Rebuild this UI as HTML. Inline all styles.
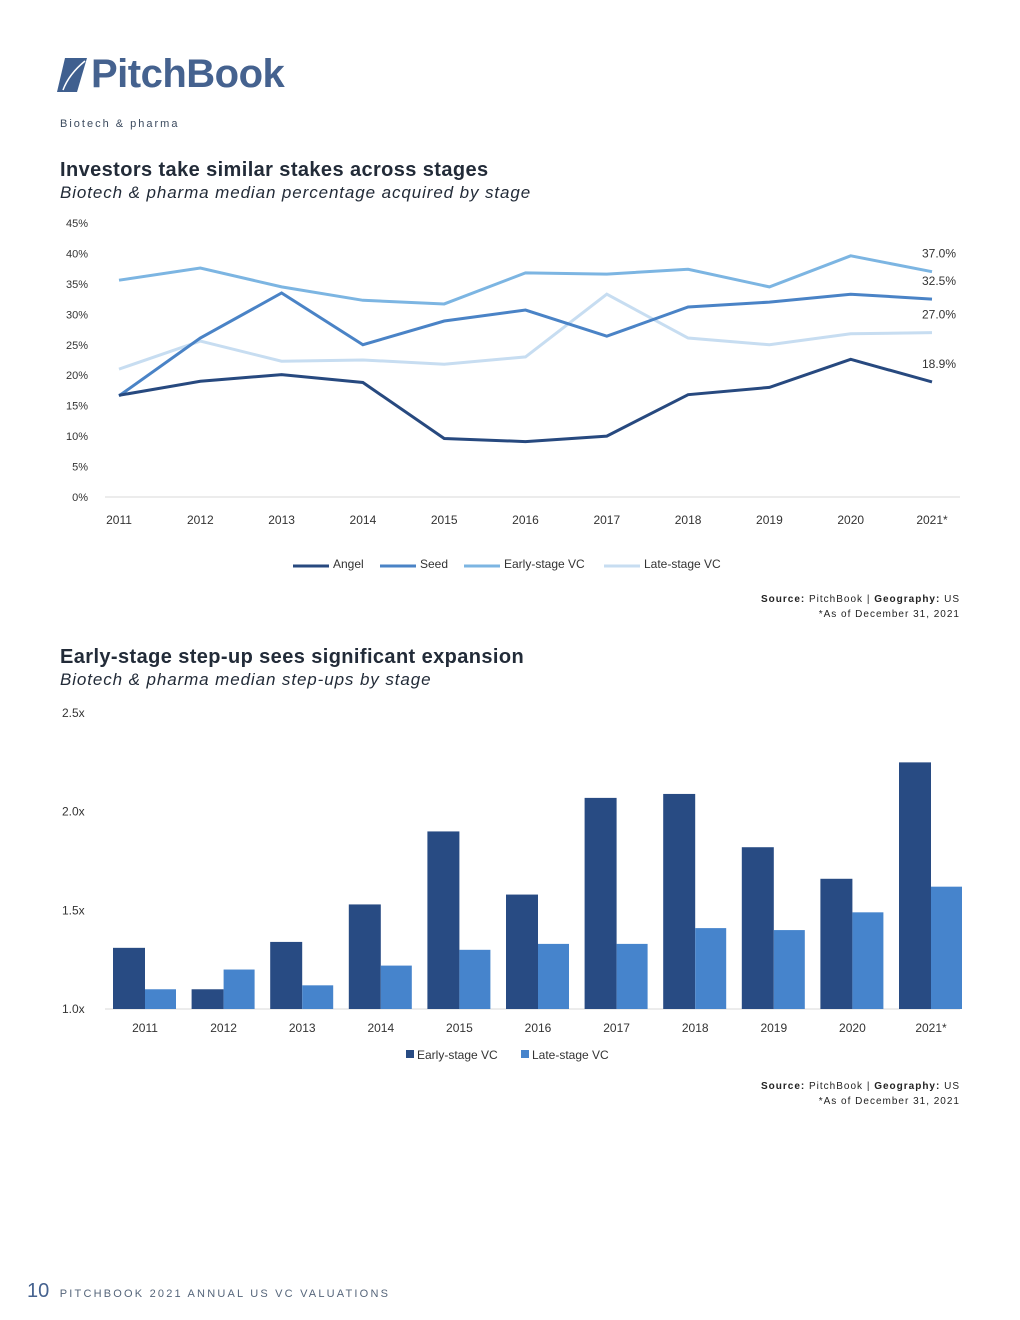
<!DOCTYPE html>
<html><head><meta charset="utf-8"><style>
body{margin:0;width:1020px;height:1320px;background:#fff;font-family:"Liberation Sans",sans-serif;position:relative;overflow:hidden}
.a{position:absolute}
</style></head><body>
<div class="a" style="left:55px;top:52px;display:flex;align-items:center">
<svg width="34" height="38" viewBox="0 0 34 38"><path d="M10 2 L32 2 L22 36 L2 36 Z" fill="#3f5f8f"/><path d="M8 34 Q14 18 30 5" stroke="#fff" stroke-width="1.5" fill="none"/></svg>
<span style="font-size:40px;font-weight:bold;color:#45628f;letter-spacing:-0.5px;margin-left:2px">PitchBook</span></div>
<div class="a" style="left:60px;top:118px;font-size:11px;letter-spacing:2px;color:#3b4a5e">Biotech &amp; pharma</div>

<div class="a" style="left:60px;top:159px;font-size:20px;font-weight:bold;color:#222b38;letter-spacing:0.4px">Investors take similar stakes across stages</div>
<div class="a" style="left:60px;top:183px;font-size:17px;font-style:italic;color:#222b38;letter-spacing:0.9px">Biotech &amp; pharma median percentage acquired by stage</div>
<svg class="a" id="c1" style="left:0;top:200px" width="1020" height="390"></svg>
<div class="a" style="right:60px;top:592px;font-size:10px;letter-spacing:1px;text-align:right;color:#222;line-height:15px"><b>Source:</b> PitchBook | <b>Geography:</b> US<br>*As of December 31, 2021</div>

<div class="a" style="left:60px;top:646px;font-size:20px;font-weight:bold;color:#222b38;letter-spacing:0.4px">Early-stage step-up sees significant expansion</div>
<div class="a" style="left:60px;top:670px;font-size:17px;font-style:italic;color:#222b38;letter-spacing:0.9px">Biotech &amp; pharma median step-ups by stage</div>
<svg class="a" id="c2" style="left:0;top:700px" width="1020" height="380"></svg>
<div class="a" style="right:60px;top:1079px;font-size:10px;letter-spacing:1px;text-align:right;color:#222;line-height:15px"><b>Source:</b> PitchBook | <b>Geography:</b> US<br>*As of December 31, 2021</div>

<div class="a" style="left:27px;top:1280px;font-size:11px;letter-spacing:2.2px;color:#55657a"><span style="font-size:20px;color:#45628f;letter-spacing:0">10</span>&nbsp; PITCHBOOK 2021 ANNUAL US VC VALUATIONS</div>
<script>
const years=["2011","2012","2013","2014","2015","2016","2017","2018","2019","2020","2021*"];
const angel=[16.7,19.0,20.1,18.8,9.6,9.1,10.0,16.8,18.0,22.6,18.9];
const seed=[16.6,26.1,33.5,25.0,28.9,30.7,26.4,31.2,32.0,33.3,32.5];
const early=[35.6,37.6,34.5,32.3,31.7,36.8,36.6,37.4,34.5,39.6,37.0];
const late=[21.0,25.6,22.3,22.5,21.8,23.0,33.3,26.1,25.0,26.8,27.0];
const pctTicks=[0,5,10,15,20,25,30,35,40,45];
const barEarly=[1.31,1.10,1.34,1.53,1.90,1.58,2.07,2.09,1.82,1.66,2.25];
const barLate=[1.10,1.20,1.12,1.22,1.30,1.33,1.33,1.41,1.40,1.49,1.62];
const xTicks=[1.0,1.5,2.0,2.5];
const NS="http://www.w3.org/2000/svg";
function mk(p,t,a,txt){const e=document.createElementNS(NS,t);for(const k in a)e.setAttribute(k,a[k]);if(txt!=null)e.textContent=txt;p.appendChild(e);return e;}
// chart 1
const c1=document.getElementById('c1');
const y1=v=>297-v*6.09, x1=i=>119+i*81.3;
mk(c1,'line',{x1:105,x2:960,y1:297,y2:297,stroke:'#d9d9d9'});
pctTicks.forEach(t=>{const e=mk(c1,'text',{x:88,y:y1(t)+4,'text-anchor':'end','font-size':11,fill:'#333'},t+'%');});
years.forEach((y,i)=>{const e=mk(c1,'text',{x:x1(i),y:324,'text-anchor':'middle','font-size':12,fill:'#333'},y);});
const series=[["Angel",angel,'#27497f'],["Seed",seed,'#4a83c6'],["Early-stage VC",early,'#7cb5e2'],["Late-stage VC",late,'#c7ddf1']];
[3,2,1,0].forEach(k=>{const [n,d,c]=series[k];const e=mk(c1,'polyline',{points:d.map((v,i)=>x1(i)+','+y1(v)).join(' '),fill:'none',stroke:c,'stroke-width':3});});
series.forEach(([n,d,c])=>{const v=d[d.length-1];const e=mk(c1,'text',{x:956,y:y1(v)-14,'text-anchor':'end','font-size':12,fill:'#333'},v.toFixed(1)+'%');});
let lx=[293,380,464,604];
series.forEach(([n,d,c],k)=>{const g=mk(c1,'g',{});mk(g,'line',{x1:lx[k],x2:lx[k]+36,y1:366,y2:366,stroke:c,'stroke-width':3});mk(g,'text',{x:lx[k]+40,y:368,'font-size':12,fill:'#333'},n);});
// chart 2
const c2=document.getElementById('c2');
const y2=v=>309-(v-1)*197.3, x2=i=>145+i*78.6;
mk(c2,'line',{x1:105,x2:960,y1:309,y2:309,stroke:'#d9d9d9'});
xTicks.forEach(t=>{const e=mk(c2,'text',{x:62,y:y2(t)+4,'font-size':12,fill:'#333'},t.toFixed(1)+'x');});
years.forEach((y,i)=>{let e=mk(c2,'rect',{x:x2(i)-32,y:y2(barEarly[i]),width:32,height:309-y2(barEarly[i]),fill:'#284b83'});
e=mk(c2,'rect',{x:x2(i),y:y2(barLate[i]),width:31,height:309-y2(barLate[i]),fill:'#4684cc'});
e=mk(c2,'text',{x:x2(i),y:332,'text-anchor':'middle','font-size':12,fill:'#333'},y);});
[["Early-stage VC",'#284b83',406],["Late-stage VC",'#4684cc',521]].forEach(([n,c,x])=>{const g=mk(c2,'g',{});mk(g,'rect',{x:x,y:350,width:8,height:8,fill:c});mk(g,'text',{x:x+11,y:359,'font-size':12,fill:'#333'},n);});
</script>
</body></html>
